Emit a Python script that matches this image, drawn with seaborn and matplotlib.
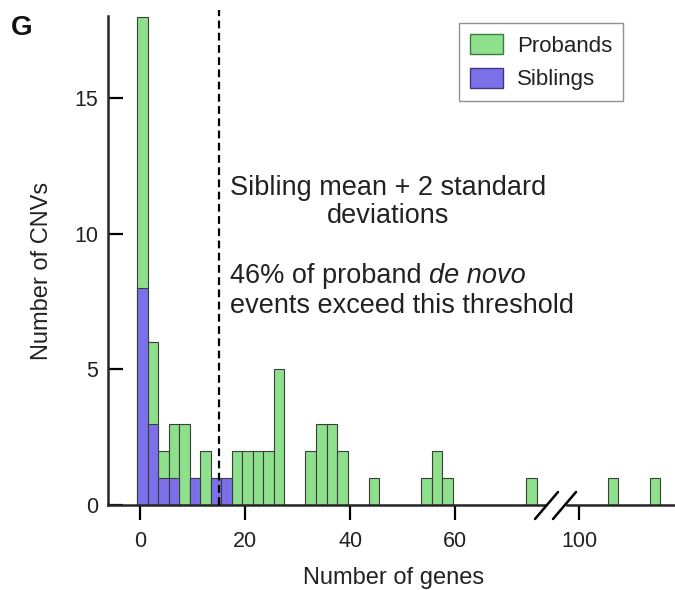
import numpy as np
import pandas as pd
import matplotlib
matplotlib.use("Agg")
import matplotlib.pyplot as plt
import seaborn as sns
from matplotlib.patches import Patch
from matplotlib.lines import Line2D

# ---- data (bin centres in number of genes, counts per bin) ----
proband_genes = [0.5, 2.5, 4.5, 6.5, 8.5, 10.5, 12.5, 14.5, 18.5, 20.5, 22.5, 24.5,
                 26.5, 32.5, 34.5, 36.5, 38.5, 44.5, 54.5, 56.5, 58.5, 74.5, 105.5, 113.5]
proband_counts = [18, 6, 2, 3, 3, 1, 2, 1, 2, 2, 2, 2,
                  5, 2, 3, 3, 2, 1, 1, 2, 1, 1, 1, 1]
sibling_genes = [0.5, 2.5, 4.5, 6.5, 10.5, 14.5, 16.5]
sibling_counts = [8, 3, 1, 1, 1, 1, 1]
bin_edges = [float(b) for b in np.arange(-0.5, 122, 2)]
threshold = 15
y_ticks = [0, 5, 10, 15]
left_xticks = [0, 20, 40, 60]
right_xticks = [100]
series_labels = ["Probands", "Siblings"]

prob_df = pd.DataFrame({"genes": proband_genes, "n": proband_counts})
sib_df = pd.DataFrame({"genes": sibling_genes, "n": sibling_counts})

sns.set_style("ticks")
plt.rcParams["font.family"] = ["Liberation Sans", "DejaVu Sans"]

W, H = 675, 590
fig = plt.figure(figsize=(W / 100, H / 100), dpi=100)
fig.patch.set_facecolor("white")

def fx(px):
    return px / W

def fy(py):
    return 1 - py / H

y_bot, y_top = 505, 16
axL = fig.add_axes([fx(108), fy(y_bot), fx(545 - 108), (y_bot - y_top) / H])
axR = fig.add_axes([fx(567), fy(y_bot), fx(675 - 567), (y_bot - y_top) / H], sharey=axL)

green = "#8fe08c"
blue = "#7b70e8"
edge = "#3c3c3c"

for ax in (axL, axR):
    sns.histplot(data=prob_df, x="genes", weights="n", bins=bin_edges, color=green,
                 alpha=1, edgecolor=edge, linewidth=0.8, ax=ax)
    sns.histplot(data=sib_df, x="genes", weights="n", bins=bin_edges, color=blue,
                 alpha=1, edgecolor=edge, linewidth=0.8, ax=ax)
    ax.set_xlabel("")
    ax.set_ylabel("")
    ax.set_facecolor("white")
    for s in ("top", "right"):
        ax.spines[s].set_visible(False)
    ax.spines["bottom"].set_linewidth(1.8)
    ax.spines["left"].set_linewidth(1.8)

axL.set_xlim(-6.1, 77.1)
axR.set_xlim(97.66, 118.3)
axL.set_ylim(0, 18.02)
axL.set_yticks(y_ticks)
axL.set_xticks(left_xticks)
axR.set_xticks(right_xticks)
axR.spines["left"].set_visible(False)
axR.tick_params(axis="y", left=False, labelleft=False)

axL.tick_params(axis="y", direction="in", length=11, width=1.6, labelsize=15.5, pad=7,
                colors="black", labelcolor="#222222")
for ax in (axL, axR):
    ax.tick_params(axis="x", direction="out", length=11, width=1.6, labelsize=15.5, pad=8,
                   colors="black", labelcolor="#222222")

# threshold line
axL.axvline(threshold, color="black", lw=1.6, ls=(0, (3.5, 2)), ymin=0, ymax=1.012,
            clip_on=False, zorder=5)

# axis break marks
for x0 in (535, 553):
    fig.add_artist(Line2D([fx(x0), fx(x0 + 23)], [fy(519), fy(492)], color="black",
                          lw=1.8, transform=fig.transFigure))

# legend
handles = [Patch(facecolor=green, edgecolor="#3d7a3d", label=series_labels[0]),
           Patch(facecolor=blue, edgecolor="#3a3a80", label=series_labels[1])]
leg = fig.legend(handles=handles, loc="upper right", bbox_to_anchor=(fx(623), fy(23)),
                 frameon=True, fancybox=False, edgecolor="#777777", fontsize=16,
                 handlelength=1.5, handleheight=1.0, handletextpad=0.6, labelspacing=0.5,
                 borderpad=0.5, borderaxespad=0)
leg.get_frame().set_linewidth(1.0)
for t in leg.get_texts():
    t.set_color("#222222")

# axis labels
fig.text(fx(42), fy(271), "Number of CNVs", rotation=90, ha="center", va="center",
         fontsize=17, color="#222222")
fig.text(fx(394), fy(578), "Number of genes", ha="center", va="center",
         fontsize=17, color="#222222")
fig.text(fx(11), fy(35), "G", ha="left", va="baseline", fontsize=20, fontweight="bold",
         color="#111111")

# annotations
fs = 19.5
fig.text(fx(388), fy(223), "Sibling mean + 2 standard\ndeviations", ha="center",
         va="baseline", multialignment="center", fontsize=fs, color="#222222",
         linespacing=1.12)
t3 = fig.text(fx(230), fy(283), "46% of proband ", ha="left", va="baseline",
              fontsize=fs, color="#222222")
fig.canvas.draw()
bb = t3.get_window_extent(renderer=fig.canvas.get_renderer())
fig.text(bb.x1 / W, fy(283), "de novo", ha="left", va="baseline", fontsize=fs,
         style="italic", color="#222222")
fig.text(fx(230), fy(313), "events exceed this threshold", ha="left", va="baseline",
         fontsize=fs, color="#222222")

fig.savefig("out.png", dpi=100, facecolor="white")
